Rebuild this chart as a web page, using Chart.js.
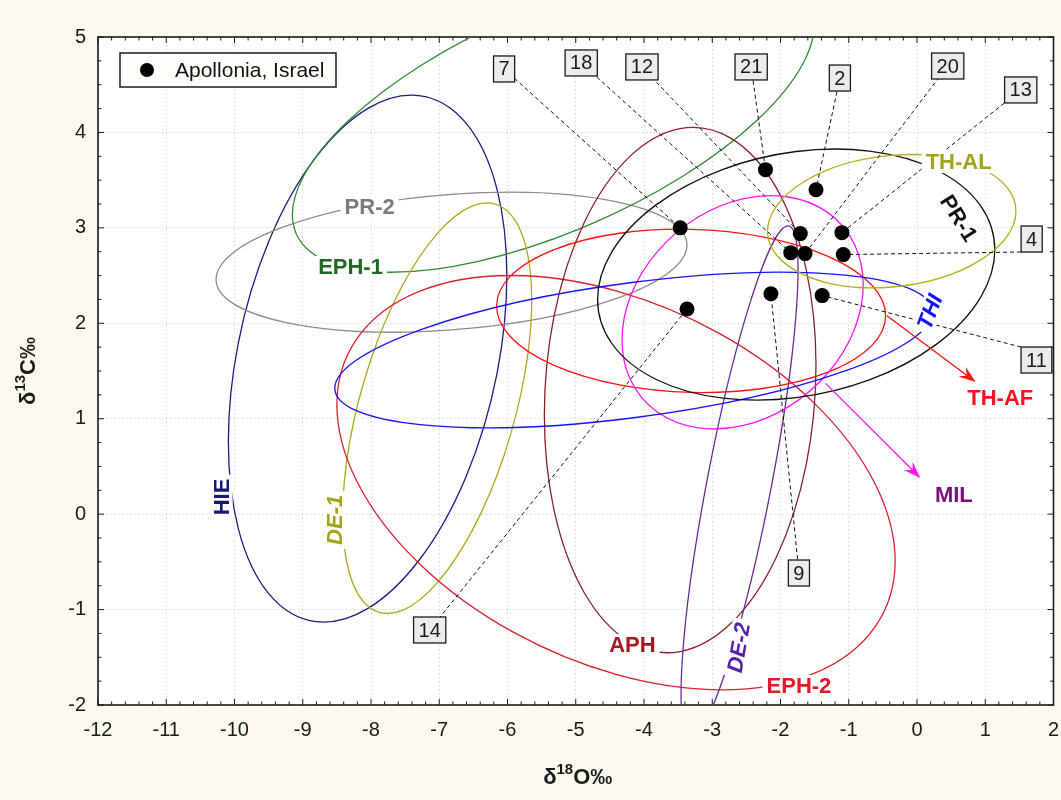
<!DOCTYPE html>
<html>
<head>
<meta charset="utf-8">
<script src="https://cdn.jsdelivr.net/npm/chart.js@4.4.1/dist/chart.umd.min.js"></script>
<style>
  html, body { margin: 0; padding: 0; background: #fbf8ee; }
  #chart { display: block; }
</style>
</head>
<body>
<canvas id="chart" width="1061" height="800"></canvas>
<script>
// samples from Apollonia (d18O, d13C) and their sample numbers
const sampleX = [-3.47, -2.22, -1.48, -1.71, -1.10, -1.85, -1.64, -1.08, -2.14, -1.39, -3.37];
const sampleY = [3.00, 3.61, 3.40, 2.94, 2.95, 2.74, 2.73, 2.72, 2.31, 2.29, 2.15];
const sampleNo = ['7', '21', '2', '12', '13', '18', '20', '4', '9', '11', '14'];

// reference fields, drawn as ellipses: centre + two conjugate half-diameters (data units)
const ellipseNames = ['HIE', 'PR-2', 'EPH-1', 'DE-1', 'EPH-2', 'APH', 'DE-2', 'TH-AF', 'MIL', 'THI', 'PR-1', 'TH-AL'];
const ellipseCx = [-8.05, -6.82, -5.33, -7.03, -4.41, -3.47, -2.60, -3.31, -2.555, -4.15, -1.77, -0.37];
const ellipseCy = [1.63, 2.64, 4.13, 1.11, 0.33, 1.30, 0.34, 2.13, 2.115, 1.72, 2.51, 3.07];
const ellipseAx = [2.04, 3.45, 2.99, 1.385, 4.09, 1.99, 0.48, 2.85, 1.767, 4.38, 2.91, 1.82];
const ellipseAy = [0.87, 0.18, 0, 1.13, -0.82, 0.26, 0, -0.05, 0.289, 0.40, 0.26, 0.105];
const ellipseBx = [0, 0, 2.38, 0, 0, 0, 0.71, 0, 0, 0, 0, 0];
const ellipseBy = [2.62, 0.71, 1.595, 1.83, 2.01, 2.74, 2.68, 0.855, 1.188, 0.71, 1.29, 0.69];

const xTicks = [-12, -11, -10, -9, -8, -7, -6, -5, -4, -3, -2, -1, 0, 1, 2];
const yTicks = [-2, -1, 0, 1, 2, 3, 4, 5];

// ---- styling / layout ----
const FONT = '"Liberation Sans", Arial, Helvetica, sans-serif';
const ellipseColors = ['#1c1c84', '#8a8a8a', '#2f8a2f', '#a9a918', '#d9222f', '#8c1f2e',
  '#6a2c92', '#ff1212', '#ff14ff', '#1414ff', '#111111', '#b0b018'];

// where each field name sits (data coords), rotation in degrees
const fieldLabels = [
  { name: 'HIE', x: -10.19, y: 0.18, rot: -90, color: '#17177a' },
  { name: 'PR-2', x: -8.02, y: 3.22, rot: 0, color: '#7a7a7a' },
  { name: 'EPH-1', x: -8.30, y: 2.59, rot: 0, color: '#1f6a1f' },
  { name: 'DE-1', x: -8.53, y: -0.06, rot: -90, color: '#a3a31a', italic: true },
  { name: 'EPH-2', x: -1.73, y: -1.80, rot: 0, color: '#e3182a' },
  { name: 'APH', x: -4.17, y: -1.37, rot: 0, color: '#a8161e' },
  { name: 'DE-2', x: -2.61, y: -1.40, rot: -80, color: '#5420a8', italic: true },
  { name: 'TH-AF', x: 1.22, y: 1.22, rot: 0, color: '#ff1020' },
  { name: 'MIL', x: 0.54, y: 0.20, rot: 0, color: '#7a1080' },
  { name: 'THI', x: 0.19, y: 2.12, rot: -69, color: '#1010ff', italic: true },
  { name: 'PR-1', x: 0.61, y: 3.10, rot: 58, color: '#111111' },
  { name: 'TH-AL', x: 0.61, y: 3.69, rot: 0, color: '#a3a31a' },
];

// arrows pointing from an ellipse out to its name
const fieldArrows = [
  { from: [-0.44, 2.08], to: [0.86, 1.385], color: '#ff1212' },
  { from: [-1.34, 1.37], to: [0.05, 0.38], color: '#ff14ff' },
];

// numbered boxes (data coords of box centre), same order as sampleNo
const boxPos = {
  '7': [-6.05, 4.665], '18': [-4.92, 4.728], '12': [-4.03, 4.686], '21': [-2.43, 4.686],
  '2': [-1.13, 4.57], '20': [0.45, 4.696], '13': [1.52, 4.445], '4': [1.68, 2.883],
  '11': [1.75, 1.615], '9': [-1.73, -0.617], '14': [-7.14, -1.214],
};
// 18 belongs to the lower-left dot of the centre cluster, 12 to the upper one
const leaderTarget = { '18': 5, '12': 3 };
// leaders that leave from a box corner instead of its centre (-1/1 = left/right, top/bottom)
const leaderCorner = { '4': [-1, 1], '11': [-1, -1] };

const decorPlugin = {
  id: 'decor',
  beforeDraw(chart) {
    const { ctx, chartArea: a } = chart;
    ctx.save();
    ctx.fillStyle = '#fbf8ee';
    ctx.fillRect(0, 0, chart.width, chart.height);
    ctx.fillStyle = '#ffffff';
    ctx.fillRect(a.left, a.top, a.right - a.left, a.bottom - a.top);
    ctx.restore();
  },
  beforeDatasetsDraw(chart) {
    const { ctx, chartArea: a } = chart;
    const xs = chart.scales.x, ys = chart.scales.y;
    const px = (v) => xs.getPixelForValue(v);
    const py = (v) => ys.getPixelForValue(v);

    // frame + inward ticks
    ctx.save();
    ctx.strokeStyle = '#1a1a1a';
    ctx.lineWidth = 1;
    for (let i = -60; i <= 10; i++) {
      const x = px(i * 0.2);
      const len = i % 5 === 0 ? 6 : 3.5;
      ctx.beginPath();
      ctx.moveTo(x, a.bottom); ctx.lineTo(x, a.bottom - len);
      ctx.moveTo(x, a.top); ctx.lineTo(x, a.top + len);
      ctx.stroke();
    }
    for (let j = -8; j <= 20; j++) {
      const y = py(j * 0.25);
      const len = j % 4 === 0 ? 6 : 3.5;
      ctx.beginPath();
      ctx.moveTo(a.left, y); ctx.lineTo(a.left + len, y);
      ctx.moveTo(a.right, y); ctx.lineTo(a.right - len, y);
      ctx.stroke();
    }
    ctx.lineWidth = 1.6;
    ctx.strokeRect(a.left, a.top, a.right - a.left, a.bottom - a.top);
    ctx.restore();

    // ellipses
    ctx.save();
    ctx.beginPath();
    ctx.rect(a.left, a.top, a.right - a.left, a.bottom - a.top);
    ctx.clip();
    ellipseNames.forEach((name, i) => {
      const cx = px(ellipseCx[i]), cy = py(ellipseCy[i]);
      const ax = px(ellipseCx[i] + ellipseAx[i]) - cx;
      const ay = py(ellipseCy[i] + ellipseAy[i]) - cy;
      const bx = px(ellipseCx[i] + ellipseBx[i]) - cx;
      const by = py(ellipseCy[i] + ellipseBy[i]) - cy;
      ctx.beginPath();
      ctx.save();
      ctx.transform(ax, ay, bx, by, cx, cy);
      ctx.arc(0, 0, 1, 0, Math.PI * 2);
      ctx.restore();
      ctx.strokeStyle = ellipseColors[i];
      ctx.lineWidth = 1.3;
      ctx.stroke();
    });

    // arrows
    fieldArrows.forEach((ar) => {
      const x1 = px(ar.from[0]), y1 = py(ar.from[1]);
      const x2 = px(ar.to[0]), y2 = py(ar.to[1]);
      const ang = Math.atan2(y2 - y1, x2 - x1);
      ctx.strokeStyle = ar.color;
      ctx.fillStyle = ar.color;
      ctx.lineWidth = 1.3;
      ctx.beginPath();
      ctx.moveTo(x1, y1); ctx.lineTo(x2 - 8 * Math.cos(ang), y2 - 8 * Math.sin(ang));
      ctx.stroke();
      ctx.beginPath();
      ctx.moveTo(x2, y2);
      ctx.lineTo(x2 - 17 * Math.cos(ang) + 6 * Math.sin(ang), y2 - 17 * Math.sin(ang) - 6 * Math.cos(ang));
      ctx.lineTo(x2 - 11 * Math.cos(ang), y2 - 11 * Math.sin(ang));
      ctx.lineTo(x2 - 17 * Math.cos(ang) - 6 * Math.sin(ang), y2 - 17 * Math.sin(ang) + 6 * Math.cos(ang));
      ctx.closePath();
      ctx.fill();
    });

    // dashed leaders from number boxes to the samples
    ctx.strokeStyle = '#111';
    ctx.lineWidth = 1;
    ctx.setLineDash([4, 3]);
    ctx.font = '20px ' + FONT;
    sampleNo.forEach((n, i) => {
      const k = leaderTarget[n] !== undefined ? leaderTarget[n] : i;
      const b = boxPos[n];
      let bx = px(b[0]), by = py(b[1]);
      if (leaderCorner[n]) {
        const hw = (ctx.measureText(n).width + 10) / 2;
        bx += leaderCorner[n][0] * hw;
        by += leaderCorner[n][1] * 13;
      }
      ctx.beginPath();
      ctx.moveTo(bx, by);
      ctx.lineTo(px(sampleX[k]), py(sampleY[k]));
      ctx.stroke();
    });
    ctx.setLineDash([]);

    // field names on white patches
    fieldLabels.forEach((l) => {
      ctx.save();
      ctx.translate(px(l.x), py(l.y));
      ctx.rotate(l.rot * Math.PI / 180);
      ctx.font = (l.italic ? 'italic ' : '') + 'bold 22px ' + FONT;
      const w = ctx.measureText(l.name).width;
      ctx.fillStyle = '#ffffff';
      ctx.fillRect(-w / 2 - 4, -11, w + 8, 22);
      ctx.fillStyle = l.color;
      ctx.textAlign = 'center';
      ctx.textBaseline = 'middle';
      ctx.fillText(l.name, 0, 1);
      ctx.restore();
    });
    ctx.restore();
  },
  afterDatasetsDraw(chart) {
    const { ctx, chartArea: a } = chart;
    const xs = chart.scales.x, ys = chart.scales.y;

    // number boxes
    ctx.save();
    ctx.font = '20px ' + FONT;
    ctx.textAlign = 'center';
    ctx.textBaseline = 'middle';
    Object.keys(boxPos).forEach((n) => {
      const cx = xs.getPixelForValue(boxPos[n][0]);
      const cy = ys.getPixelForValue(boxPos[n][1]);
      const w = ctx.measureText(n).width + 10;
      ctx.fillStyle = '#ececec';
      ctx.fillRect(cx - w / 2, cy - 13, w, 26);
      ctx.strokeStyle = '#1a1a1a';
      ctx.lineWidth = 1.3;
      ctx.strokeRect(cx - w / 2, cy - 13, w, 26);
      ctx.fillStyle = '#1a1a1a';
      ctx.fillText(n, cx, cy + 1);
    });

    // legend
    const lx = a.left + 22, ly = a.top + 16;
    ctx.fillStyle = '#fdfdf9';
    ctx.fillRect(lx, ly, 216, 34);
    ctx.strokeStyle = '#1a1a1a';
    ctx.lineWidth = 1.5;
    ctx.strokeRect(lx, ly, 216, 34);
    ctx.fillStyle = '#000';
    ctx.beginPath();
    ctx.arc(lx + 27, ly + 17, 7, 0, Math.PI * 2);
    ctx.fill();
    ctx.font = '21px ' + FONT;
    ctx.textAlign = 'left';
    ctx.fillStyle = '#111';
    ctx.fillText(chart.data.datasets[0].label, lx + 55, ly + 18);
    ctx.restore();
  },
  afterDraw(chart) {
    const { ctx, chartArea: a } = chart;
    const drawTitle = (parts) => {
      let total = 0;
      parts.forEach((p) => { ctx.font = p.font; total += ctx.measureText(p.t).width; });
      let x = -total / 2;
      parts.forEach((p) => {
        ctx.font = p.font;
        ctx.fillText(p.t, x, p.dy);
        x += ctx.measureText(p.t).width;
      });
    };
    const big = 'bold 22px ' + FONT, small = 'bold 15px ' + FONT;
    ctx.save();
    ctx.fillStyle = '#1a1a1a';
    ctx.textBaseline = 'middle';
    ctx.textAlign = 'left';
    ctx.translate((a.left + a.right) / 2 + 2, 778);
    drawTitle([{ t: 'δ', font: big, dy: 0 }, { t: '18', font: small, dy: -8 }, { t: 'O‰', font: big, dy: 0 }]);
    ctx.restore();
    ctx.save();
    ctx.fillStyle = '#1a1a1a';
    ctx.textBaseline = 'middle';
    ctx.textAlign = 'left';
    ctx.translate(29, (a.top + a.bottom) / 2);
    ctx.rotate(-Math.PI / 2);
    drawTitle([{ t: 'δ', font: big, dy: 0 }, { t: '13', font: small, dy: -8 }, { t: 'C‰', font: big, dy: 0 }]);
    ctx.restore();
  },
};

new Chart(document.getElementById('chart'), {
  type: 'scatter',
  data: {
    datasets: [{
      label: 'Apollonia, Israel',
      data: sampleX.map((x, i) => ({ x, y: sampleY[i] })),
      backgroundColor: '#000',
      borderWidth: 0,
      pointRadius: 7.5,
      pointHoverRadius: 7.5,
    }],
  },
  options: {
    responsive: false,
    animation: false,
    layout: { padding: { left: 0, top: 37, right: 6, bottom: 0 } },
    plugins: { legend: { display: false }, tooltip: { enabled: false } },
    scales: {
      x: {
        type: 'linear', min: -12, max: 2,
        afterBuildTicks: (s) => { s.ticks = xTicks.map((v) => ({ value: v })); },
        afterFit: (s) => { s.height = 95; s.paddingLeft = 0; s.paddingRight = 0; },
        ticks: { color: '#1a1a1a', padding: 13, font: { family: FONT, size: 20 }, callback: (v) => String(v), maxRotation: 0 },
        grid: { color: '#c9c9c9', lineWidth: 1, drawTicks: false },
        border: { display: false, dash: [1, 3] },
      },
      y: {
        type: 'linear', min: -2, max: 5,
        afterBuildTicks: (s) => { s.ticks = yTicks.map((v) => ({ value: v })); },
        afterFit: (s) => { s.width = 98; s.paddingTop = 0; s.paddingBottom = 0; },
        ticks: { color: '#1a1a1a', padding: 12, font: { family: FONT, size: 20 }, callback: (v) => String(v) },
        grid: { color: '#c9c9c9', lineWidth: 1, drawTicks: false },
        border: { display: false, dash: [1, 3] },
      },
    },
  },
  plugins: [decorPlugin],
});
</script>
</body>
</html>
